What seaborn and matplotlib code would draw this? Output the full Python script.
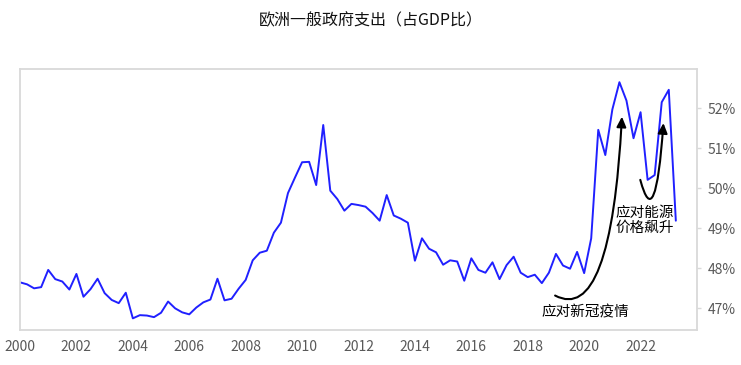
import seaborn as sns
import matplotlib
matplotlib.use("Agg")
import matplotlib.pyplot as plt
import pandas as pd

# 欧洲一般政府支出占GDP比，季度数据 2000Q1 - 2023Q2
start_year = 2000
spending = [47.65, 47.60, 47.50, 47.53, 47.96, 47.73, 47.67, 47.47,
            47.86, 47.29, 47.48, 47.74, 47.38, 47.21, 47.13, 47.39,
            46.75, 46.83, 46.82, 46.78, 46.89, 47.17, 47.00, 46.90,
            46.85, 47.02, 47.15, 47.22, 47.74, 47.20, 47.24, 47.49,
            47.71, 48.20, 48.39, 48.44, 48.89, 49.14, 49.88, 50.27,
            50.65, 50.66, 50.08, 51.58, 49.94, 49.73, 49.44, 49.61,
            49.58, 49.54, 49.38, 49.19, 49.83, 49.32, 49.24, 49.14,
            48.19, 48.75, 48.49, 48.40, 48.09, 48.20, 48.17, 47.69,
            48.25, 47.96, 47.89, 48.15, 47.73, 48.08, 48.29, 47.89,
            47.78, 47.84, 47.63, 47.89, 48.36, 48.07, 47.99, 48.41,
            47.88, 48.75, 51.46, 50.83, 51.97, 52.65, 52.19, 51.25,
            51.90, 50.21, 50.33, 52.15, 52.46, 49.19]
x_ticks = list(range(2000, 2023, 2))
y_ticks = [47, 48, 49, 50, 51, 52]

df = pd.DataFrame({
    "year": [start_year + q / 4 for q in range(len(spending))],
    "spending": spending,
})

sns.set_style("white")
plt.rcParams['font.family'] = ['Noto Sans CJK SC', 'DejaVu Sans']

fig = plt.figure(figsize=(7.41, 3.65), dpi=100)
ax = fig.add_axes([0.027, 0.096, 0.9136, 0.715])

sns.lineplot(data=df, x="year", y="spending", color="#2020ff", linewidth=1.4, ax=ax)

ax.set_xlim(2000, 2024)
ax.set_ylim(46.46, 52.98)
ax.set_xticks(x_ticks)
ax.set_xticklabels([str(t) for t in x_ticks])
ax.set_yticks(y_ticks)
ax.set_yticklabels([f"{t}%" for t in y_ticks])
ax.yaxis.tick_right()
ax.set_xlabel("")
ax.set_ylabel("")
ax.tick_params(axis="both", colors="#d9d9d9", labelcolor="#595959",
               labelsize=10, length=3, width=1, direction="out")
ax.tick_params(axis="y", pad=5)
ax.tick_params(axis="x", pad=4)
for s in ax.spines.values():
    s.set_color("#d9d9d9")
    s.set_linewidth(1.3)

fig.text(0.5, 0.942, "欧洲一般政府支出（占GDP比）", ha="center", va="center",
         fontsize=11.5, color="#111111")

# 注释箭头
arrow_kw = dict(arrowstyle="-|>,head_length=0.6,head_width=0.28", color="black",
                lw=1.5, shrinkA=0, shrinkB=0)
ax.annotate("", xy=(2021.34, 51.79), xytext=(2018.97, 47.32),
            arrowprops=dict(connectionstyle="angle3,angleA=-28,angleB=87", **arrow_kw))
ax.annotate("", xy=(2022.81, 51.63), xytext=(2021.99, 50.21),
            arrowprops=dict(connectionstyle="angle3,angleA=-75,angleB=86", **arrow_kw))

ax.text(2020.03, 46.91, "应对新冠疫情", ha="center", va="center", fontsize=10.5, color="black")
ax.text(2022.16, 49.19, "应对能源\n价格飙升", ha="center", va="center", fontsize=10.5,
        color="black", linespacing=1.1)

plt.savefig("out.png", dpi=100)
